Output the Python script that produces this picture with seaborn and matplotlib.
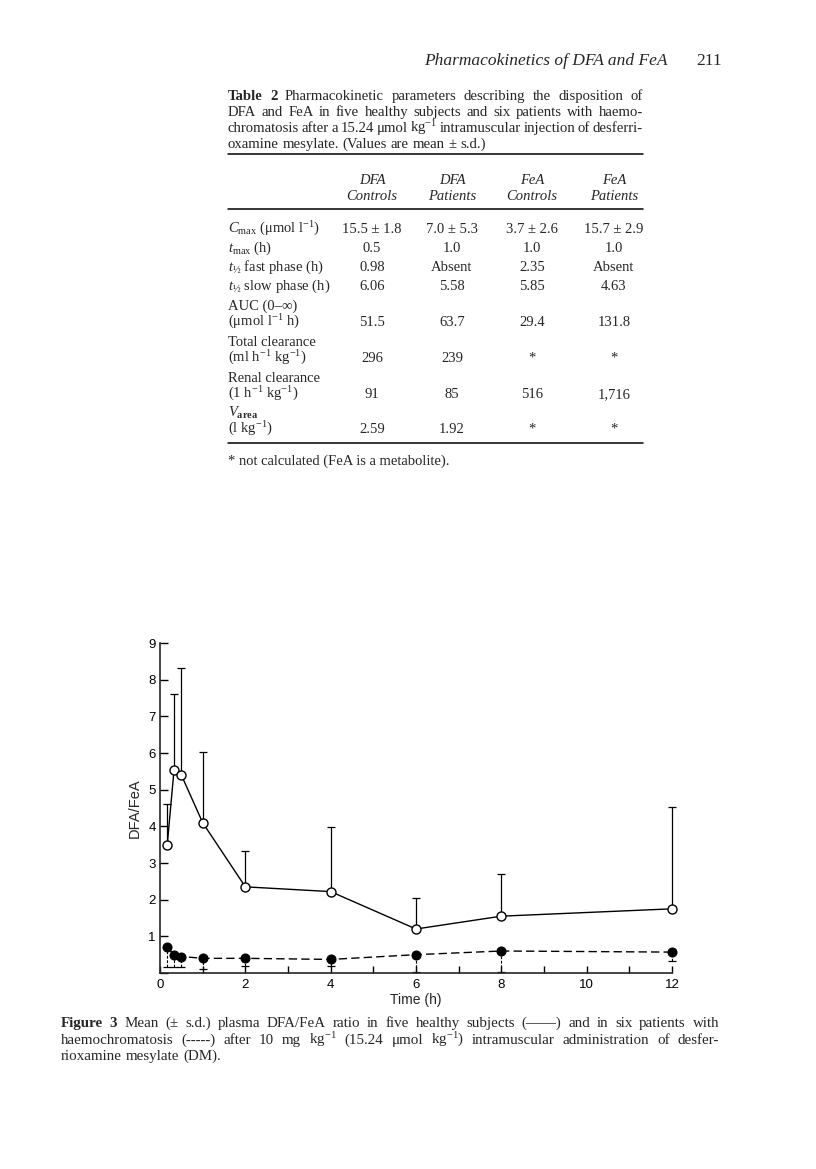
import numpy as np
import pandas as pd
import seaborn as sns
import matplotlib.pyplot as plt

# ---- data ----
times = [0.17, 0.33, 0.5, 1, 2, 4, 6, 8, 12]
ctrl_mean = [3.5, 5.55, 5.4, 4.1, 2.35, 2.22, 1.2, 1.55, 1.75]
ctrl_sd = [1.1, 2.07, 2.93, 1.93, 0.97, 1.76, 0.84, 1.14, 2.77]
pat_mean = [0.7, 0.5, 0.45, 0.4, 0.4, 0.37, 0.5, 0.6, 0.57]
pat_sd = [0.54, 0.34, 0.29, 0.28, 0.21, 0.17, 0.48, 0.56, 0.23]

xticks = list(range(13))
xticklabels = [str(t) if t % 2 == 0 else '' for t in xticks]
yticks = list(range(10))
yticklabels = [''] + [str(t) for t in range(1, 10)]

# ---- table 2 ----
col_heads = [('DFA', 'Controls'), ('DFA', 'Patients'), ('FeA', 'Controls'), ('FeA', 'Patients')]
row_labels = [
    ['$C_{\\mathrm{max}}$ (μmol l$^{-1}$)'],
    ['$t_{\\mathrm{max}}$ (h)'],
    ['$t_{½}$ fast phase (h)'],
    ['$t_{½}$ slow phase (h)'],
    ['AUC (0–∞)', '(μmol l$^{-1}$ h)'],
    ['Total clearance', '(ml h$^{-1}$ kg$^{-1}$)'],
    ['Renal clearance', '(1 h$^{-1}$ kg$^{-1}$)'],
    ['$V_{\\mathbf{area}}$', '(l kg$^{-1}$)'],
]
dfa_controls = ['15.5 ± 1.8', '0.5', '0.98', '6.06', '51.5', '296', '91', '2.59']
dfa_patients = ['7.0 ± 5.3', '1.0', 'Absent', '5.58', '63.7', '239', '85', '1.92']
fea_controls = ['3.7 ± 2.6', '1.0', '2.35', '5.85', '29.4', '*', '516', '*']
fea_patients = ['15.7 ± 2.9', '1.0', 'Absent', '4.63', '131.8', '*', '1,716', '*']

W, H = 816, 1169
sns.set_style('ticks')
plt.rcParams['font.family'] = ['Liberation Serif', 'DejaVu Serif']
plt.rcParams['mathtext.fontset'] = 'custom'
plt.rcParams['mathtext.rm'] = 'Liberation Serif'
plt.rcParams['mathtext.it'] = 'Liberation Serif:italic'
plt.rcParams['mathtext.bf'] = 'Liberation Serif:bold'
plt.rcParams['xtick.direction'] = 'in'
plt.rcParams['ytick.direction'] = 'in'

fig = plt.figure(figsize=(W / 100, H / 100), dpi=100)
rend = fig.canvas.get_renderer()


def fx(x, y):
    return x / W, 1 - y / H


def put(x, y, s, size=10.5, ha='left', **kw):
    return fig.text(*fx(x, y), s, fontsize=size, ha=ha, va='baseline', **kw)


def line(segs, x0, y, x1=None, size=11):
    # one line of text, word by word, justified to x1 if given
    words = []
    for s, kw in segs:
        for w in s.split(' '):
            if w:
                words.append((w, kw))
    objs = [put(0, y, w, size=size, **kw) for w, kw in words]
    ws = [o.get_window_extent(rend).width for o in objs]
    if x1 is None:
        gap = size * 100 / 72 * 0.25
    else:
        gap = (x1 - x0 - sum(ws)) / (len(ws) - 1)
    x = x0
    for o, w in zip(objs, ws):
        o.set_position(fx(x, y))
        x += w + gap


# running head
put(668, 65, 'Pharmacokinetics of DFA and FeA', size=12.5, ha='right', style='italic')
put(722, 65, '211', size=12.5, ha='right')

# table caption
L, R = 228, 643
cs = 10.6
line([('Table 2', {'fontweight': 'bold'}),
      ('Pharmacokinetic parameters describing the disposition of', {})], L, 100, R, size=cs)
line([('DFA and FeA in five healthy subjects and six patients with haemo-', {})], L, 116, R, size=cs)
line([('chromatosis after a 15.24 μmol kg$^{-1}$ intramuscular injection of desferri-', {})], L, 132, R, size=cs)
line([('oxamine mesylate. (Values are mean ± s.d.)', {})], L, 148, size=cs)

fig.add_artist(plt.Line2D([L / W, R / W], [1 - 154 / H] * 2, color='black', lw=1.1))
fig.add_artist(plt.Line2D([L / W, R / W], [1 - 209 / H] * 2, color='black', lw=1.1))
fig.add_artist(plt.Line2D([L / W, R / W], [1 - 443 / H] * 2, color='black', lw=1.1))

col_x = [372, 452, 532, 614]
for cx, (a, b) in zip(col_x, col_heads):
    put(cx, 184, a, ha='center', style='italic')
    put(cx, 200, b, ha='center', style='italic')

row_y = [233, 252, 271, 290, 326, 362, 398, 433]
for i, lab in enumerate(row_labels):
    ys = [row_y[i]] if len(lab) == 1 else [row_y[i] - 16, row_y[i]]
    for s, yy in zip(lab, ys):
        put(L, yy, s)
    for cx, col in zip(col_x, [dfa_controls, dfa_patients, fea_controls, fea_patients]):
        put(cx, row_y[i], col[i], ha='center')

put(L, 465, '* not calculated (FeA is a metabolite).')

# ---- figure 3 ----
ax = fig.add_axes([160 / W, 1 - 973 / H, (672 - 160) / W, (973 - 643) / H])
df_c = pd.DataFrame({'time': times, 'ratio': ctrl_mean})
df_p = pd.DataFrame({'time': times, 'ratio': pat_mean})

eb_c = ax.errorbar(times, ctrl_mean, yerr=[np.zeros(len(ctrl_sd)), ctrl_sd], fmt='none',
                   ecolor='black', elinewidth=0.9, capsize=3.2, capthick=0.9, zorder=1)
eb_p = ax.errorbar(times, pat_mean, yerr=[pat_sd, np.zeros(len(pat_sd))], fmt='none',
                   ecolor='black', elinewidth=0.8, capsize=3.2, capthick=0.9, zorder=1)
eb_p[2][0].set_linestyle((0, (2.5, 1.5)))
for eb in (eb_c, eb_p):
    for art in list(eb[1]) + list(eb[2]):
        art.set_clip_on(False)

sns.lineplot(data=df_c, x='time', y='ratio', ax=ax, color='black', lw=1.0,
             marker='o', markersize=6.5, markerfacecolor='white', markeredgecolor='black',
             markeredgewidth=1.0, zorder=3, clip_on=False)
sns.lineplot(data=df_p, x='time', y='ratio', ax=ax, color='black', lw=1.0,
             linestyle=(0, (6, 3)), marker='o', markersize=6.5, markerfacecolor='black',
             markeredgecolor='black', zorder=3, clip_on=False)

ax.set_xlim(0, 12)
ax.set_ylim(0, 9)
ax.set_xticks(xticks)
ax.set_xticklabels(xticklabels)
ax.set_yticks(yticks)
ax.set_yticklabels(yticklabels)
sans = ['Liberation Sans', 'DejaVu Sans']
for t in ax.get_xticklabels() + ax.get_yticklabels():
    t.set_family(sans)
    t.set_fontsize(9.5)
ax.tick_params(direction='in', width=1.0, colors='black')
ax.tick_params(axis='x', length=5, pad=4)
ax.tick_params(axis='y', length=6, pad=3)
ax.set_xlabel('Time (h)', family=sans, fontsize=10, labelpad=2)
ax.set_ylabel('DFA/FeA', family=sans, fontsize=10.5, labelpad=5)
sns.despine(ax=ax)
for sp in ['left', 'bottom']:
    ax.spines[sp].set_linewidth(1.2)
ax.set_facecolor('none')

# figure caption
CL, CR = 61, 719
fs = 10.8
line([('Figure 3', {'fontweight': 'bold'}),
      ('Mean (± s.d.) plasma DFA/FeA ratio in five healthy subjects (——) and in six patients with', {})],
     CL, 1027, CR, size=fs)
line([('haemochromatosis (-----) after 10 mg kg$^{-1}$ (15.24 μmol kg$^{-1}$) intramuscular administration of desfer-', {})],
     CL, 1044, CR, size=fs)
line([('rioxamine mesylate (DM).', {})], CL, 1060, size=fs)

fig.savefig('out.png', dpi=100)
